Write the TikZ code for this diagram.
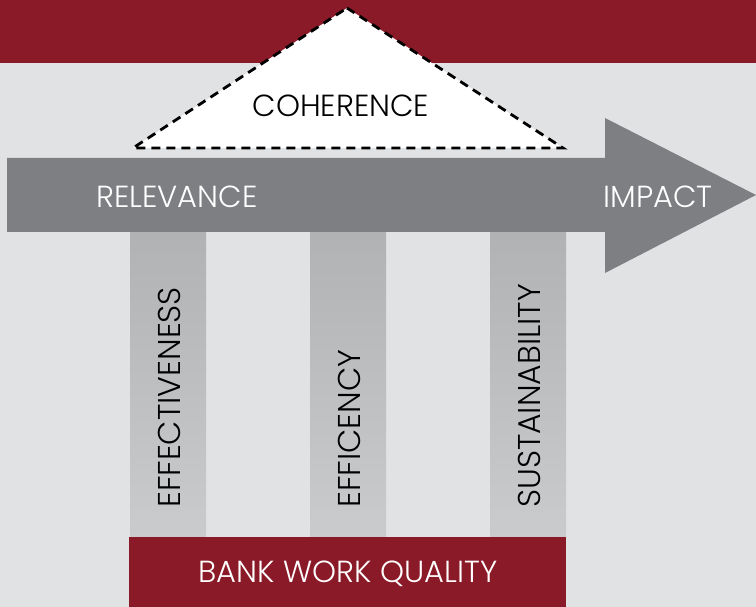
\documentclass[tikz,border=0pt]{standalone}
\usepackage{fontspec}
\setmainfont{Poppins Light}
\usetikzlibrary{shapes.geometric}
\definecolor{bandred}{HTML}{8A1A27}
\definecolor{bggray}{HTML}{E1E2E4}
\definecolor{arrowgray}{HTML}{7E7F83}
\definecolor{pillartop}{HTML}{B0B2B4}
\definecolor{pillarbot}{HTML}{CACBCD}
\tikzset{
  pillar/.style={top color=pillartop, bottom color=pillarbot, draw=none},
  lbl/.style={font=\fontsize{30.5}{30.5}\selectfont, inner sep=0pt},
  vlbl/.style={font=\fontsize{31.5}{31.5}\selectfont, inner sep=0pt, text=black, rotate=90, anchor=base west},
}
\begin{document}
\begin{tikzpicture}[x=1pt,y=-1pt]
\useasboundingbox (0,0) rectangle (756,607);
\fill[bggray] (0,0) rectangle (756,607);
\fill[bandred] (0,0) rectangle (756,63);
% triangle
\coordinate (apex) at (347,8);
\coordinate (bl) at (133,148);
\coordinate (br) at (563,148);
\filldraw[fill=white, draw=black, line width=2.8pt, dash pattern=on 9pt off 6pt] (apex) -- (br) -- (bl) -- cycle;
\node[lbl, text=black] (coh) at (341,106) {COHERENCE};
% pillars
\fill[pillar] (130,232) rectangle (206,537);
\fill[pillar] (310,232) rectangle (386,537);
\fill[pillar] (490,232) rectangle (566,537);
% arrow
\fill[arrowgray] (7,158) -- (605,158) -- (605,118) -- (756,195) -- (605,273) -- (605,232) -- (7,232) -- cycle;
\node[lbl, text=white] (rel) at (177,197) {RELEVANCE};
\node[lbl, text=white] (imp) at (658,197) {IMPACT};
% vertical labels
\node[vlbl] (eff) at (180,508) {EFFECTIVENESS};
\node[vlbl] (effi) at (360,508) {EFFICENCY};
\node[vlbl] (sus) at (540,508) {SUSTAINABILITY};
% bottom box
\fill[bandred] (129,537) rectangle (566,607);
\node[lbl, text=white] (bwq) at (348,574) {BANK WORK QUALITY};
\end{tikzpicture}
\end{document}
